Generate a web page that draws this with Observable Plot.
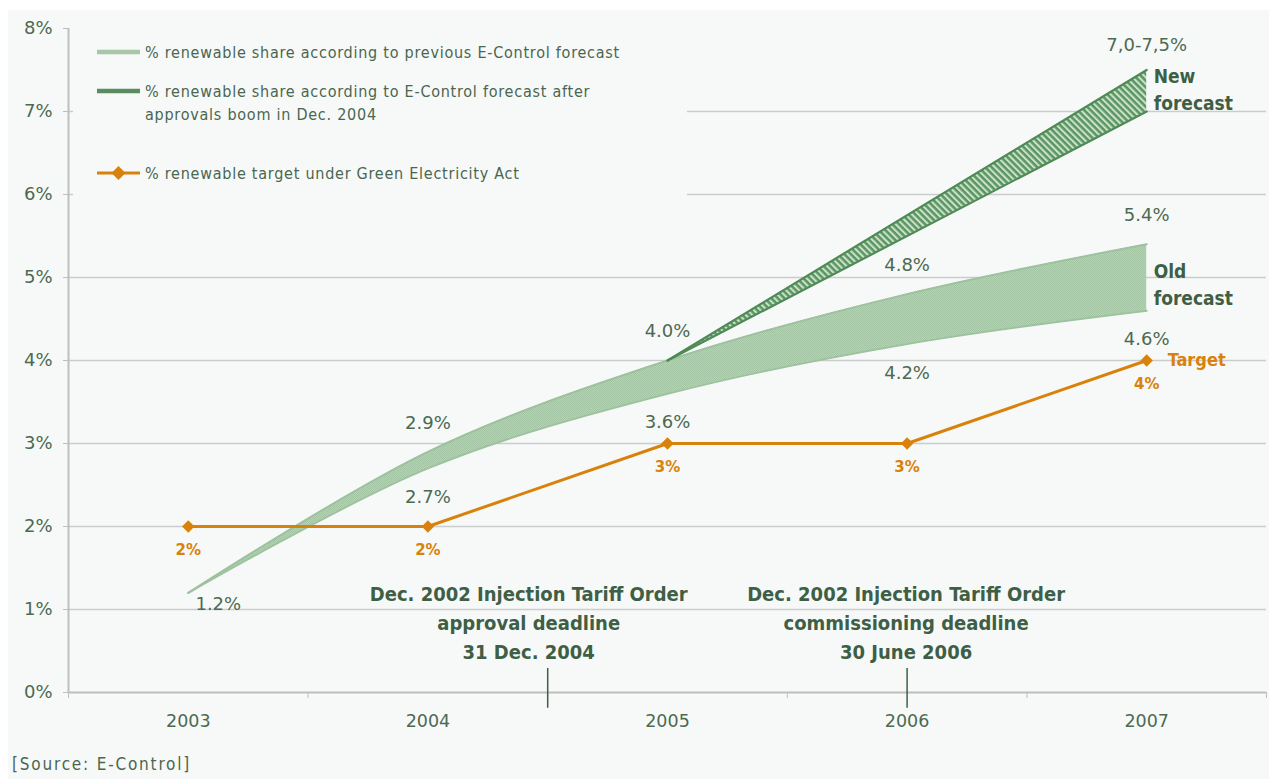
<!DOCTYPE html>
<html><head><meta charset="utf-8">
<script src="https://cdn.jsdelivr.net/npm/d3@7"></script>
<script src="https://cdn.jsdelivr.net/npm/@observablehq/plot@0.6"></script>
<style>
body{margin:0;background:#fff;width:1269px;height:779px;position:relative;overflow:hidden;font-family:"DejaVu Sans",sans-serif;}
#panel{position:absolute;left:8px;top:10px;width:1261px;height:769px;background:#f7f9f8;}
#chart{position:absolute;left:0;top:0;}
#legend{position:absolute;left:73px;top:32px;width:614px;height:166px;background:#f7f9f8;}
#source{position:absolute;left:12px;top:754px;font-size:17px;color:#4a6650;font-family:'DejaVu Sans Condensed','DejaVu Sans',sans-serif;letter-spacing:1.8px;}
</style></head><body>
<div id="panel"></div><div id="chart"></div><div id="legend"></div><div id="source"></div>
<script>
// ---- data ----
const years = [2003, 2004, 2005, 2006, 2007];
const oldUpper = [1.2, 2.9, 4.0, 4.8, 5.4];
const oldLower = [1.2, 2.7, 3.6, 4.2, 4.6];
const newYears = [2005, 2007];
const newUpper = [4.0, 7.5];
const newLower = [4.0, 7.0];
const target = [2, 2, 3, 3, 4];
const targetLabels = ["2%", "2%", "3%", "3%", "4%"];
const yTicks = [0, 1, 2, 3, 4, 5, 6, 7, 8];
const legendItems = [
  "% renewable share according to previous E-Control forecast",
  "% renewable share according to E-Control forecast after\napprovals boom in Dec. 2004",
  "% renewable target under Green Electricity Act"
];
const annotations = [
  {x: 2004.5, text: "Dec. 2002 Injection Tariff Order\napproval deadline\n31 Dec. 2004"},
  {x: 2006, text: "Dec. 2002 Injection Tariff Order\ncommissioning deadline\n30 June 2006"}
];
const sourceText = "[Source: E-Control]";

// ---- derived tables ----
const oldData = years.map((y, i) => ({year: y, lo: oldLower[i], hi: oldUpper[i]}));
const newData = newYears.map((y, i) => ({year: y, lo: newLower[i], hi: newUpper[i]}));
const targetData = years.map((y, i) => ({year: y, v: target[i], label: targetLabels[i]}));
const boundaries = years.map(y => y - 0.5).concat([years[years.length - 1] + 0.5]);

const textGreen = "#4b6a51";
const darkGreen = "#3e5f45";
const orange = "#d8820c";
const axisGray = "#bdbfbe";
const cond = "'DejaVu Sans Condensed', 'Liberation Sans Narrow', 'DejaVu Sans', sans-serif";
const fmt1 = v => v.toFixed(1) + "%";

const plot = Plot.plot({
  width: 1269, height: 745,
  marginLeft: 68, marginRight: 3, marginTop: 28, marginBottom: 53,
  style: {background: "transparent", fontFamily: "'DejaVu Sans', sans-serif", color: textGreen, overflow: "visible"},
  x: {domain: [boundaries[0], boundaries[boundaries.length - 1]]},
  y: {domain: [0, 8]},
  marks: [
    Plot.gridY(yTicks.slice(1, -1), {stroke: "#cbcdcc", strokeOpacity: 1, strokeWidth: 1.6}),
    Plot.axisY({ticks: yTicks, tickFormat: d => d + "%", tickSize: 5, tickPadding: 11, fontSize: 18, stroke: axisGray, fill: textGreen, label: null}),
    Plot.axisX({ticks: boundaries, tickSize: 6, tickFormat: () => "", stroke: axisGray, label: null}),
    Plot.axisX({ticks: years, tickSize: 0, tickPadding: 22, tickFormat: d => String(d), fontSize: 17.5, fill: textGreen, label: null}),
    Plot.ruleX([boundaries[0]], {stroke: axisGray, strokeWidth: 2}),
    Plot.ruleY([0], {stroke: axisGray, strokeWidth: 2}),
    // old forecast band
    Plot.areaY(oldData, {x: "year", y1: "lo", y2: "hi", fill: "url(#oldPat)", curve: "catmull-rom"}),
    Plot.line(oldData, {x: "year", y: "hi", stroke: "#9ec29f", strokeWidth: 2, curve: "catmull-rom"}),
    Plot.line(oldData, {x: "year", y: "lo", stroke: "#9ec29f", strokeWidth: 2, curve: "catmull-rom"}),
    // new forecast band
    Plot.areaY(newData, {x: "year", y1: "lo", y2: "hi", fill: "url(#newPat)"}),
    Plot.line(newData, {x: "year", y: "hi", stroke: "#4f8a56", strokeWidth: 2.2}),
    Plot.line(newData, {x: "year", y: "lo", stroke: "#4f8a56", strokeWidth: 2.2}),
    // target
    Plot.line(targetData, {x: "year", y: "v", stroke: orange, strokeWidth: 3}),
    Plot.dot(targetData, {x: "year", y: "v", symbol: "diamond2", r: 5.6, fill: orange, stroke: "none"}),
    Plot.text(targetData, {x: "year", y: "v", text: "label", dy: 24, fill: orange, fontWeight: "bold", fontSize: 15}),
    Plot.text(targetData.slice(-1), {x: "year", y: "v", text: () => "Target", textAnchor: "start", dx: 21, fill: orange, fontWeight: "bold", fontSize: 18, fontFamily: cond}),
    // value labels
    Plot.text(oldData.slice(1), {x: "year", y: "hi", text: d => fmt1(d.hi), dy: -29, fontSize: 18, fill: textGreen}),
    Plot.text(oldData.slice(1), {x: "year", y: "lo", text: d => fmt1(d.lo), dy: 29, fontSize: 18, fill: textGreen}),
    Plot.text(oldData.slice(0, 1), {x: "year", y: "lo", text: d => fmt1(d.lo), dx: 30, dy: 11, fontSize: 18, fill: textGreen}),
    Plot.text(newData.slice(-1), {x: "year", y: "hi", text: d => `${d.lo.toFixed(1).replace(".", ",")}-${d.hi.toFixed(1).replace(".", ",")}%`, dy: -25, fontSize: 18, fill: textGreen}),
    Plot.text(newData.slice(-1), {x: "year", y: d => (d.lo + d.hi) / 2, text: () => "New\nforecast", textAnchor: "start", dx: 7, dy: -3, lineHeight: 1.45, fontWeight: "bold", fontSize: 19, fontFamily: cond, fill: darkGreen}),
    Plot.text(oldData.slice(-1), {x: "year", y: d => (d.lo + d.hi) / 2, text: () => "Old\nforecast", textAnchor: "start", dx: 7, dy: 5, lineHeight: 1.45, fontWeight: "bold", fontSize: 19, fontFamily: cond, fill: darkGreen}),
    // annotations
    Plot.ruleX(annotations, {x: "x", y1: 0.29, y2: -0.19, stroke: darkGreen, strokeWidth: 1.5}),
    Plot.text(annotations.slice(0, 1), {x: "x", y: 0, text: "text", dx: -19, dy: -72, lineAnchor: "middle", lineHeight: 1.45, fontWeight: "bold", fontSize: 20, fontFamily: cond, fill: darkGreen}),
    Plot.text(annotations.slice(1), {x: "x", y: 0, text: "text", dx: -1, dy: -72, lineAnchor: "middle", lineHeight: 1.45, fontWeight: "bold", fontSize: 20, fontFamily: cond, fill: darkGreen})
  ]
});

// fill patterns
plot.insertAdjacentHTML("afterbegin", `<defs>
  <pattern id="oldPat" width="2" height="2" patternUnits="userSpaceOnUse">
    <rect width="2" height="2" fill="#b7d2b7"/>
    <rect width="1" height="1" fill="#a2c4a2"/><rect x="1" y="1" width="1" height="1" fill="#a2c4a2"/>
  </pattern>
  <pattern id="newPat" width="4.6" height="4.6" patternUnits="userSpaceOnUse" patternTransform="rotate(-45)">
    <rect width="4.6" height="4.6" fill="#5a9561"/>
    <rect width="2.1" height="4.6" fill="#c9e0c9"/>
  </pattern>
</defs>`);
document.getElementById("chart").appendChild(plot);
document.getElementById("source").textContent = sourceText;

// legend
const lg = d3.select("#legend").append("svg").attr("width", 614).attr("height", 166)
  .style("font-family", "'DejaVu Sans Condensed', 'DejaVu Sans', sans-serif").style("font-size", "16px").style("letter-spacing", "0.75px");
const rows = [
  {y: 20, stroke: "#a7c7a7", w: 4.5, diamond: false},
  {y: 59, stroke: "#5a8c60", w: 4.5, diamond: false},
  {y: 141, stroke: orange, w: 3, diamond: true}
];
rows.forEach((r, i) => {
  lg.append("line").attr("x1", 24).attr("x2", 67).attr("y1", r.y).attr("y2", r.y).attr("stroke", r.stroke).attr("stroke-width", r.w);
  if (r.diamond) lg.append("path").attr("d", `M45.5,${r.y - 7}L52.5,${r.y}L45.5,${r.y + 7}L38.5,${r.y}Z`).attr("fill", orange);
  const t = lg.append("text").attr("x", 72).attr("y", r.y).attr("fill", "#4a6650");
  legendItems[i].split("\n").forEach((line, j) => {
    t.append("tspan").attr("x", 72).attr("dy", j === 0 ? "0.35em" : "1.45em").text(line);
  });
});
</script>
</body></html>
